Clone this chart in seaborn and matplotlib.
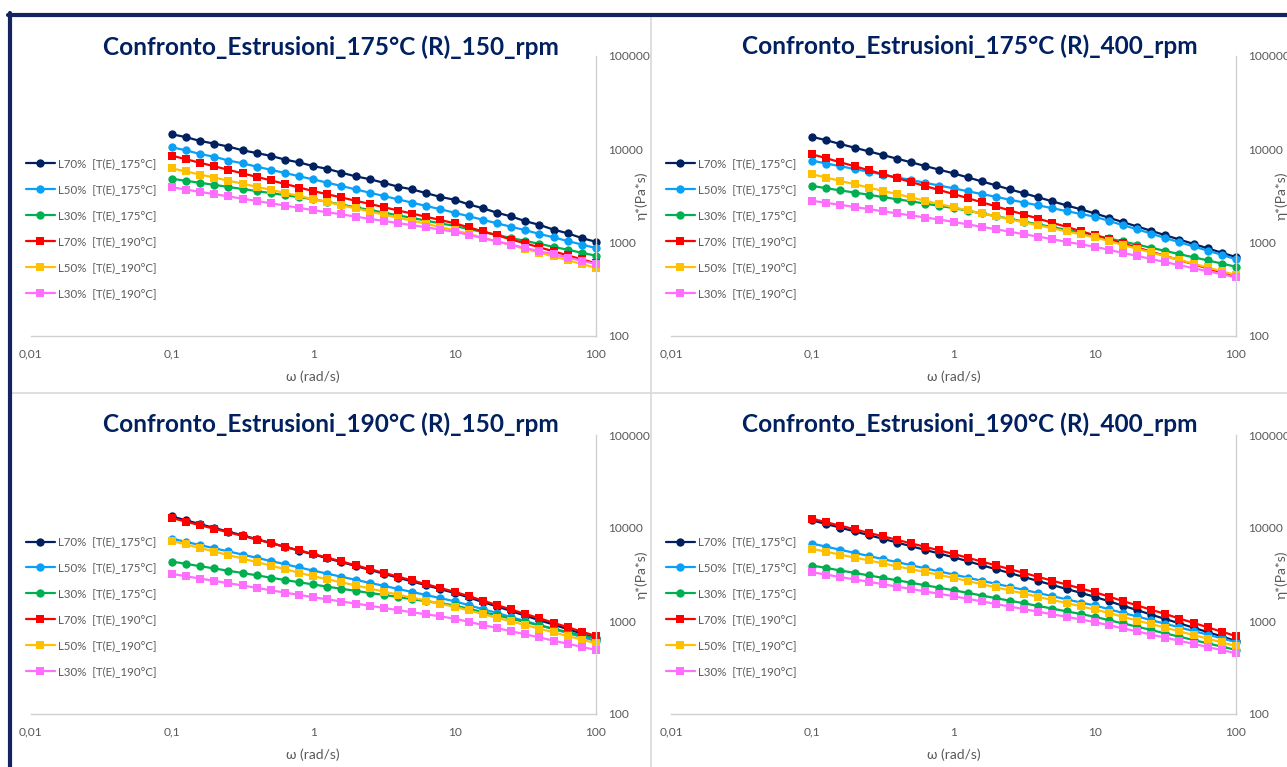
import matplotlib
matplotlib.use("Agg")
import matplotlib.pyplot as plt
import matplotlib.ticker as mticker
from matplotlib.lines import Line2D
import seaborn as sns

# angular frequency of the sweep (rad/s)
omega = [0.1, 0.126, 0.158, 0.2, 0.251, 0.316, 0.398, 0.501, 0.631, 0.794,
         1, 1.26, 1.58, 2, 2.51, 3.16, 3.98, 5.01, 6.31, 7.94,
         10, 12.6, 15.8, 20, 25.1, 31.6, 39.8, 50.1, 63.1, 79.4, 100]

series_labels = ["L70%  [T(E)_175°C]", "L50%  [T(E)_175°C]", "L30%  [T(E)_175°C]",
                 "L70%  [T(E)_190°C]", "L50%  [T(E)_190°C]", "L30%  [T(E)_190°C]"]
series_colors = ["#002060", "#0AA0F5", "#00B050", "#FF0000", "#FFC000", "#FF6EFF"]
series_markers = ["o", "o", "o", "s", "s", "s"]

panel_titles = ["Confronto_Estrusioni_175°C (R)_150_rpm",
                "Confronto_Estrusioni_175°C (R)_400_rpm",
                "Confronto_Estrusioni_190°C (R)_150_rpm",
                "Confronto_Estrusioni_190°C (R)_400_rpm"]

x_ticks = [0.01, 0.1, 1, 10, 100]
y_ticks = [100, 1000, 10000, 100000]

# ---------------------------------------
# complex viscosity eta* (Pa*s)
# ---------------------------------------

# 175°C (R) 150 rpm
p1_l70_175 = [14500, 13500, 12300, 11500, 10700, 9770, 9120, 8510, 7760, 7240,
              6610, 6170, 5620, 5130, 4790, 4370, 3980, 3720, 3390, 3090,
              2880, 2570, 2340, 2090, 1910, 1700, 1550, 1380, 1260, 1120, 1020]
p1_l50_175 = [10500, 9770, 8910, 8320, 7590, 7080, 6530, 6030, 5580, 5150,
              4760, 4390, 4050, 3720, 3430, 3160, 2910, 2680, 2470, 2280,
              2090, 1920, 1760, 1610, 1480, 1360, 1240, 1140, 1040, 955, 875]
p1_l30_175 = [4840, 4600, 4380, 4160, 3950, 3760, 3570, 3400, 3230, 3070,
              2920, 2730, 2560, 2390, 2240, 2100, 1960, 1840, 1720, 1610,
              1510, 1400, 1300, 1210, 1120, 1045, 971, 902, 839, 780, 724]
p1_l70_190 = [8550, 7830, 7180, 6580, 6030, 5530, 5070, 4650, 4260, 3900,
              3570, 3300, 3050, 2810, 2600, 2400, 2210, 2050, 1890, 1750,
              1610, 1460, 1320, 1200, 1080, 984, 891, 807, 731, 662, 600]
p1_l50_190 = [6250, 5790, 5370, 4980, 4610, 4290, 3970, 3680, 3410, 3160,
              2930, 2720, 2520, 2330, 2160, 2000, 1850, 1720, 1590, 1470,
              1360, 1240, 1130, 1030, 942, 857, 782, 711, 649, 590, 538]
p1_l30_190 = [3920, 3710, 3500, 3310, 3130, 2960, 2800, 2640, 2500, 2360,
              2230, 2120, 2010, 1900, 1800, 1710, 1620, 1540, 1460, 1380,
              1310, 1210, 1120, 1030, 953, 879, 811, 750, 692, 640, 590]

# 175°C (R) 400 rpm
p2_l70_175 = [13600, 12500, 11400, 10400, 9510, 8690, 7940, 7260, 6620, 6050,
              5530, 5010, 4540, 4110, 3720, 3380, 3060, 2770, 2510, 2280,
              2060, 1850, 1660, 1490, 1340, 1200, 1080, 968, 869, 780, 700]
p2_l50_175 = [7550, 7050, 6590, 6150, 5750, 5370, 5010, 4690, 4380, 4090,
              3820, 3560, 3320, 3100, 2880, 2690, 2510, 2340, 2180, 2030,
              1900, 1710, 1540, 1390, 1250, 1120, 1010, 912, 820, 740, 665]
p2_l30_175 = [4050, 3830, 3630, 3440, 3260, 3080, 2920, 2770, 2620, 2480,
              2350, 2200, 2060, 1920, 1800, 1680, 1570, 1470, 1370, 1290,
              1200, 1110, 1030, 953, 881, 815, 753, 697, 646, 597, 552]
p2_l70_190 = [8830, 8020, 7260, 6590, 5970, 5420, 4910, 4460, 4040, 3660,
              3320, 3000, 2710, 2450, 2210, 2000, 1810, 1630, 1480, 1330,
              1200, 1090, 982, 885, 800, 721, 650, 587, 530, 479, 432]
p2_l50_190 = [5400, 4980, 4580, 4230, 3890, 3590, 3310, 3050, 2810, 2590,
              2390, 2220, 2060, 1910, 1780, 1650, 1530, 1430, 1320, 1230,
              1140, 1040, 946, 863, 785, 716, 653, 594, 542, 493, 450]
p2_l30_190 = [2810, 2670, 2540, 2410, 2290, 2170, 2060, 1960, 1860, 1770,
              1670, 1570, 1480, 1390, 1310, 1230, 1160, 1090, 1020, 962,
              904, 838, 776, 721, 668, 619, 574, 532, 494, 458, 425]

# 190°C (R) 150 rpm
p3_l70_175 = [13300, 12100, 11000, 10000, 9140, 8340, 7590, 6900, 6280, 5710,
              5200, 4720, 4300, 3900, 3550, 3220, 2920, 2660, 2420, 2200,
              2000, 1790, 1600, 1430, 1280, 1140, 1020, 914, 817, 731, 653]
p3_l50_175 = [7670, 7100, 6550, 6050, 5600, 5180, 4780, 4420, 4080, 3770,
              3480, 3230, 2990, 2770, 2570, 2390, 2210, 2050, 1900, 1760,
              1630, 1480, 1340, 1220, 1100, 998, 904, 818, 743, 673, 610]
p3_l30_175 = [4360, 4110, 3890, 3670, 3470, 3280, 3100, 2920, 2760, 2610,
              2470, 2340, 2220, 2110, 2000, 1910, 1810, 1720, 1630, 1550,
              1470, 1350, 1250, 1150, 1060, 975, 897, 826, 760, 701, 646]
p3_l70_190 = [12800, 11700, 10700, 9820, 8970, 8220, 7520, 6870, 6280, 5750,
              5260, 4790, 4370, 3970, 3610, 3300, 3000, 2730, 2480, 2260,
              2060, 1850, 1660, 1480, 1330, 1190, 1070, 957, 857, 769, 689]
p3_l50_190 = [7260, 6650, 6100, 5580, 5120, 4690, 4300, 3940, 3610, 3300,
              3030, 2810, 2600, 2420, 2240, 2070, 1920, 1780, 1660, 1530,
              1420, 1300, 1190, 1080, 991, 906, 826, 755, 690, 630, 575]
p3_l30_190 = [3210, 3030, 2860, 2700, 2550, 2410, 2270, 2140, 2020, 1910,
              1800, 1710, 1620, 1540, 1460, 1380, 1310, 1240, 1180, 1120,
              1060, 979, 908, 839, 776, 719, 665, 615, 569, 527, 488]

# 190°C (R) 400 rpm
p4_l70_175 = [12100, 11000, 10100, 9180, 8380, 7660, 6980, 6370, 5810, 5310,
              4840, 4400, 3980, 3610, 3270, 2970, 2690, 2440, 2210, 2010,
              1820, 1630, 1460, 1310, 1170, 1050, 944, 847, 759, 681, 610]
p4_l50_175 = [6790, 6300, 5830, 5400, 5000, 4630, 4300, 3980, 3680, 3410,
              3160, 2930, 2710, 2510, 2330, 2160, 2000, 1850, 1710, 1580,
              1470, 1340, 1220, 1120, 1020, 935, 853, 780, 713, 650, 594]
p4_l30_175 = [3940, 3720, 3490, 3290, 3090, 2910, 2740, 2580, 2420, 2280,
              2140, 2010, 1880, 1760, 1650, 1550, 1450, 1360, 1270, 1190,
              1110, 1020, 942, 869, 800, 736, 678, 624, 575, 530, 488]
p4_l70_190 = [12600, 11500, 10600, 9680, 8870, 8150, 7460, 6840, 6270, 5740,
              5260, 4790, 4360, 3960, 3610, 3280, 2980, 2710, 2470, 2240,
              2040, 1830, 1640, 1470, 1320, 1190, 1060, 955, 855, 767, 689]
p4_l50_190 = [5960, 5550, 5160, 4810, 4480, 4170, 3870, 3610, 3360, 3130,
              2910, 2690, 2490, 2300, 2130, 1970, 1820, 1680, 1560, 1440,
              1330, 1220, 1110, 1010, 927, 847, 773, 706, 646, 589, 538]
p4_l30_190 = [3340, 3150, 2970, 2800, 2640, 2490, 2340, 2210, 2080, 1960,
              1850, 1730, 1630, 1520, 1430, 1340, 1260, 1180, 1110, 1040,
              973, 902, 834, 773, 714, 662, 612, 568, 525, 486, 450]

panels = [
    [p1_l70_175, p1_l50_175, p1_l30_175, p1_l70_190, p1_l50_190, p1_l30_190],
    [p2_l70_175, p2_l50_175, p2_l30_175, p2_l70_190, p2_l50_190, p2_l30_190],
    [p3_l70_175, p3_l50_175, p3_l30_175, p3_l70_190, p3_l50_190, p3_l30_190],
    [p4_l70_175, p4_l50_175, p4_l30_175, p4_l70_190, p4_l50_190, p4_l30_190],
]

# ---------------------------------------
# layout (pixels of the 1287x767 canvas)
# ---------------------------------------
W, H = 1287, 767
TEXT = "#595959"
NAVY = "#002060"

# plot area: left, top, right, bottom
boxes = [(30.5, 56, 596, 336), (671, 56, 1236, 336),
         (30.5, 435, 596, 714), (671, 435, 1236, 714)]
title_pos = [(331, 47), (970, 46), (331, 424), (970, 424)]
legend_pos = [(26, 228.5), (666, 228.5), (26, 607), (666, 607)]

sns.set_style("white")
plt.rcParams["font.family"] = ["Lato", "DejaVu Sans"]

fig = plt.figure(figsize=(W / 100, H / 100), dpi=100)

fmt = mticker.FuncFormatter(lambda v, pos: f"{v:g}".replace(".", ","))

for i, series in enumerate(panels):
    l, t, r, b = boxes[i]
    ax = fig.add_axes([l / W, 1 - b / H, (r - l) / W, (b - t) / H])

    for vals, lab, col, mk in zip(series, series_labels, series_colors, series_markers):
        sns.lineplot(x=omega, y=vals, ax=ax, color=col, marker=mk,
                     markersize=6.0 if mk == "o" else 5.6, markeredgewidth=0,
                     linewidth=1.6, label=lab, clip_on=False)

    ax.set_xscale("log")
    ax.set_yscale("log")
    ax.set_xlim(0.01, 100)
    ax.set_ylim(100, 100000)
    ax.set_xticks(x_ticks)
    ax.set_yticks(y_ticks)
    ax.xaxis.set_major_formatter(fmt)
    ax.yaxis.set_major_formatter(fmt)
    ax.xaxis.set_minor_locator(mticker.NullLocator())
    ax.yaxis.set_minor_locator(mticker.NullLocator())
    ax.yaxis.tick_right()
    ax.yaxis.set_label_position("right")
    ax.tick_params(axis="both", length=0, labelsize=8.6, labelcolor=TEXT, pad=9)

    for side in ["top", "left"]:
        ax.spines[side].set_visible(False)
    for side in ["right", "bottom"]:
        ax.spines[side].set_color("#d0d0d0")
        ax.spines[side].set_linewidth(1)

    ax.set_xlabel("ω (rad/s)", fontsize=10, color=TEXT)
    ax.xaxis.set_label_coords(0.5, -0.122)
    ax.set_ylabel("η*(Pa*s)", fontsize=10, color=TEXT)
    ax.yaxis.set_label_coords(1.07, 0.5)

    lx, ly = legend_pos[i]
    ax.legend(loc="center left", bbox_to_anchor=(lx / W, 1 - ly / H),
              bbox_transform=fig.transFigure, frameon=False, fontsize=8.3,
              handlelength=2.5, handletextpad=0.3, labelspacing=1.3,
              borderpad=0, borderaxespad=0, labelcolor=TEXT)

    tx, ty = title_pos[i]
    fig.text(tx / W, 1 - ty / H, panel_titles[i], ha="center", va="center",
             fontsize=17.6, fontweight="bold", color=NAVY)

# panel separators and outer frame
fig.add_artist(Line2D([650.5 / W, 650.5 / W], [0, 1 - 17 / H], color="#d9d9d9", lw=1.2))
fig.add_artist(Line2D([12 / W, 1], [1 - 393 / H, 1 - 393 / H], color="#d9d9d9", lw=1.2))
fig.add_artist(Line2D([10 / W, 10 / W], [0, 1 - 13 / H], color="#13245e", lw=3))
fig.add_artist(Line2D([8 / W, 1], [1 - 15 / H, 1 - 15 / H], color="#13245e", lw=3))

fig.savefig("out.png", dpi=100)
